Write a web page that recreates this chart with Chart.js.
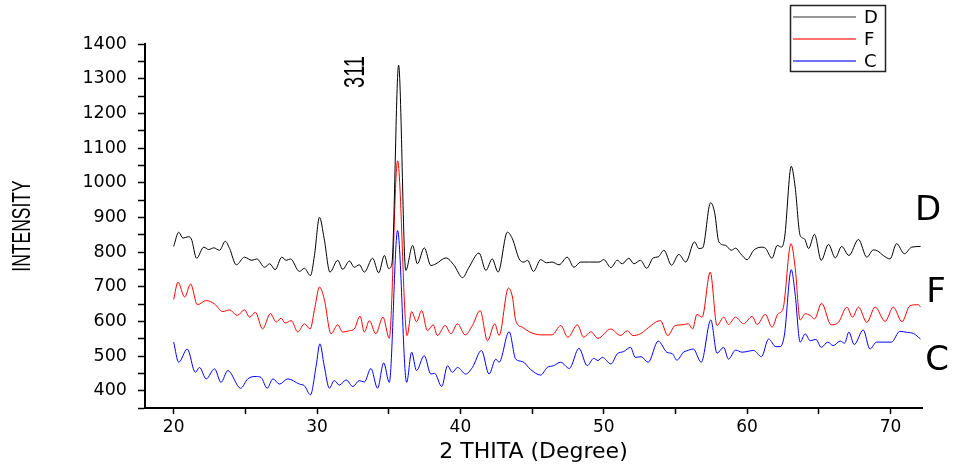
<!DOCTYPE html>
<html>
<head>
<meta charset="utf-8">
<script src="https://cdn.jsdelivr.net/npm/chart.js@4"></script>
<style>
html,body{margin:0;padding:0;background:#fff;}
#wrap{width:953px;height:467px;position:relative;}
</style>
</head>
<body>
<div id="wrap"><canvas id="c" width="953" height="467"></canvas></div>
<script>
// 2-theta positions and intensities
const xD = [20.0,20.35,20.65,21.0,21.23,21.6,22.1,22.44,22.8,23.2,23.6,23.9,24.37,24.94,25.45,25.8,26.34,26.7,27.08,27.54,27.85,28.15,28.77,29.12,29.54,29.82,30.17,30.5,30.9,31.44,31.79,32.26,32.6,32.95,33.3,33.88,34.3,34.7,35.0,35.22,35.69,36.19,36.67,37.0,37.48,37.94,38.3,38.99,39.57,40.15,40.6,41.3,41.78,42.22,42.63,43.28,43.63,44.1,44.44,44.68,45.1,45.6,46.0,46.4,46.88,47.45,47.92,48.39,49.0,49.67,50.0,50.5,50.94,51.29,51.75,52.1,52.56,53.0,53.45,53.8,54.2,54.73,55.24,55.72,56.33,56.64,56.9,57.45,57.73,58.03,58.5,58.9,59.2,59.55,60.0,60.46,61.04,61.3,61.74,62.1,62.4,62.62,63.08,63.35,63.7,64.0,64.29,64.7,65.17,65.68,66.15,66.6,67.1,67.77,68.35,68.8,69.1,69.5,69.97,70.43,70.97,71.48,72.1];
const yD = [816,857,840,844,838,782,814,807,812,805,831,810,763,785,776,780,756,766,749,785,776,780,744,753,732,790,900,838,742,776,750,774,756,763,742,782,740,790,752,765,1339,747,819,766,812,761,766,783,761,726,756,797,747,780,742,857,838,780,771,776,744,778,769,771,763,785,756,771,771,771,778,755,776,766,782,766,776,753,783,786,805,762,793,771,829,810,812,942,915,829,819,805,811,795,778,805,814,810,782,819,814,843,1047,988,848,838,810,851,776,822,783,816,790,836,785,806,803,790,780,824,795,814,816];

const xF = [20.0,20.3,20.77,21.18,21.65,22.27,22.85,23.43,23.9,24.43,24.94,25.3,25.7,26.2,26.75,27.15,27.5,27.77,28.2,28.66,29.12,29.52,29.85,30.17,30.5,30.98,31.44,31.79,32.26,32.6,33.0,33.3,33.65,34.1,34.6,35.04,35.62,36.28,36.6,36.94,37.3,37.7,38.1,38.4,38.94,39.34,39.8,40.33,40.84,41.38,41.89,42.4,42.7,43.35,43.63,43.86,44.33,44.8,45.6,46.4,47.0,47.5,48.16,48.6,49.1,49.6,50.48,51.17,51.64,52.03,52.56,53.0,53.95,54.47,54.98,55.5,55.9,56.2,56.5,56.86,57.43,57.9,58.37,58.7,59.2,59.75,60.35,60.7,61.27,61.74,62.16,62.5,63.06,63.35,63.7,64.05,64.4,64.7,65.2,65.86,66.37,66.96,67.35,67.77,68.35,68.93,69.63,70.2,70.8,71.36,71.95,72.1];
const yF = [663,713,670,708,648,660,650,628,633,617,633,612,626,578,622,598,609,595,602,569,593,578,640,699,665,564,590,569,573,578,615,569,602,564,612,551,1063,559,628,599,631,573,590,559,588,564,593,561,588,631,544,593,559,696,670,602,583,570,561,561,588,554,590,554,570,551,578,559,573,559,564,578,602,559,588,590,593,578,620,612,742,588,612,591,612,593,614,591,620,583,622,635,824,756,604,622,617,607,652,590,597,641,612,641,597,641,600,641,599,645,648,641];

const xC = [20.0,20.35,20.95,21.51,21.8,22.27,22.85,23.3,23.78,24.67,25.17,25.76,26.1,26.52,26.92,27.38,27.96,28.77,29.12,29.54,29.94,30.2,30.5,30.86,31.2,31.56,32.03,32.5,32.95,33.3,33.76,34.22,34.65,35.04,35.62,36.25,36.6,36.94,37.48,37.94,38.2,38.7,39.1,39.44,39.8,40.37,40.84,41.47,42.0,42.47,42.7,43.4,43.86,44.33,44.9,45.6,46.06,46.5,47.0,47.6,48.27,48.85,49.3,49.6,49.9,50.5,50.94,51.4,51.87,52.2,52.6,53.1,53.8,54.4,54.8,55.1,55.56,55.8,56.25,56.8,57.47,57.9,58.36,58.7,59.2,59.65,60.46,61.0,61.5,62.0,62.3,62.6,63.08,63.35,63.7,64.05,64.4,64.8,65.17,65.63,66.0,66.5,66.8,67.1,67.47,68.1,68.57,69.03,69.6,70.07,70.65,71.2,71.6,72.1];
const yC = [540,482,520,453,467,434,463,424,458,407,434,441,438,407,434,419,434,419,414,388,472,535,472,407,429,416,431,412,429,425,464,407,480,424,862,424,511,458,501,448,450,412,472,453,467,448,467,516,448,491,482,570,491,484,461,445,467,472,482,464,522,472,493,487,496,477,506,513,525,496,498,482,543,511,506,488,511,515,520,482,604,508,525,491,517,511,516,498,549,527,527,560,749,679,540,564,544,548,525,540,530,543,537,569,533,575,520,540,540,540,571,568,565,549];

const seriesNames = ['D','F','C'];
const seriesColors = ['#000000','#ff0000','#0000ff'];
const xTicksMajor = [20,30,40,50,60,70];
const yTicksMajor = [400,500,600,700,800,900,1000,1100,1200,1300,1400];
const peakLabel = '311';
const xTitle = '2 THITA (Degree)';
const yTitle = 'INTENSITY';

const toPts = (xs, ys) => xs.map((x, i) => ({x: x, y: ys[i]}));
const allX = [xD, xF, xC], allY = [yD, yF, yC];

const overlay = {
  id: 'overlay',
  afterDraw(chart) {
    const ctx = chart.ctx;
    ctx.save();
    ctx.fillStyle = '#000';
    // y title (narrow, tall look)
    ctx.save();
    ctx.translate(23, 226);
    ctx.rotate(-Math.PI / 2);
    ctx.scale(1, 1.5);
    ctx.font = '17.5px "Liberation Sans", Arial, sans-serif';
    ctx.textAlign = 'center';
    ctx.textBaseline = 'middle';
    ctx.fillText(yTitle, 0, 0);
    ctx.restore();
    // peak label
    ctx.save();
    ctx.translate(356, 72);
    ctx.rotate(-Math.PI / 2);
    ctx.scale(1, 1.5);
    ctx.font = '20px "Liberation Sans", Arial, sans-serif';
    ctx.textAlign = 'center';
    ctx.textBaseline = 'middle';
    ctx.fillText(peakLabel, 0, 0);
    ctx.restore();
    // series labels at right
    ctx.font = '34px "DejaVu Sans", sans-serif';
    ctx.textAlign = 'center';
    ctx.textBaseline = 'alphabetic';
    ctx.fillText('D', 928, 220);
    ctx.fillText('F', 936, 302);
    ctx.fillText('C', 937, 370);
    // legend box
    ctx.lineWidth = 1.5;
    ctx.strokeStyle = '#222';
    ctx.strokeRect(790.5, 5.5, 95, 66);
    const rows = [17, 39, 61];
    ctx.font = '18px "DejaVu Sans", sans-serif';
    ctx.textAlign = 'left';
    ctx.textBaseline = 'middle';
    for (let i = 0; i < seriesNames.length; i++) {
      ctx.beginPath();
      ctx.lineWidth = 1.5;
      ctx.strokeStyle = seriesColors[i];
      ctx.globalAlpha = i === 0 ? 0.55 : 0.75;
      ctx.moveTo(793, rows[i]);
      ctx.lineTo(856, rows[i]);
      ctx.stroke();
      ctx.globalAlpha = 1;
      ctx.fillStyle = '#000';
      ctx.fillText(seriesNames[i], 864, rows[i] + 1);
    }
    ctx.restore();
  }
};

new Chart(document.getElementById('c'), {
  type: 'line',
  data: {
    datasets: seriesNames.map((n, i) => ({
      label: n,
      data: toPts(allX[i], allY[i]),
      borderColor: seriesColors[i],
      borderWidth: 1,
      pointRadius: 0,
      fill: false,
      cubicInterpolationMode: 'monotone'
    }))
  },
  options: {
    responsive: false,
    animation: false,
    devicePixelRatio: 1,
    layout: {padding: {top: 44, right: 31, left: 0, bottom: 0}},
    plugins: {legend: {display: false}, tooltip: {enabled: false}},
    scales: {
      x: {
        type: 'linear',
        min: 18, max: 72.2,
        afterFit: s => { s.height = 59; },
        afterBuildTicks: s => { s.ticks = s.ticks.filter(t => Math.abs(t.value % 5) < 1e-6); },
        border: {display: true, color: '#000', width: 2},
        grid: {display: true, drawOnChartArea: false, drawTicks: true, tickLength: 6, tickWidth: 1.5, tickColor: '#000'},
        ticks: {
          stepSize: 5, includeBounds: false, autoSkip: false, maxRotation: 0,
          color: '#000', padding: 3,
          font: {family: '"DejaVu Sans", sans-serif', size: 17},
          callback: v => xTicksMajor.includes(v) ? String(v) : ''
        },
        title: {display: true, text: xTitle, color: '#000',
          font: {family: '"DejaVu Sans", sans-serif', size: 22}, padding: {top: 3, bottom: 2}}
      },
      y: {
        type: 'linear',
        min: 350, max: 1400,
        afterFit: s => { s.width = 145; },
        afterBuildTicks: s => { s.ticks = s.ticks.filter(t => Math.abs(t.value % 50) < 1e-6); },
        border: {display: true, color: '#000', width: 2},
        grid: {display: true, drawOnChartArea: false, drawTicks: true, tickLength: 7, tickWidth: 1.5, tickColor: '#000'},
        ticks: {
          stepSize: 50, includeBounds: false, autoSkip: false,
          color: '#000', padding: 11,
          font: {family: '"DejaVu Sans", sans-serif', size: 17.5},
          callback: v => yTicksMajor.includes(v) ? String(v) : ''
        },
        title: {display: false}
      }
    }
  },
  plugins: [overlay]
});
</script>
</body>
</html>
